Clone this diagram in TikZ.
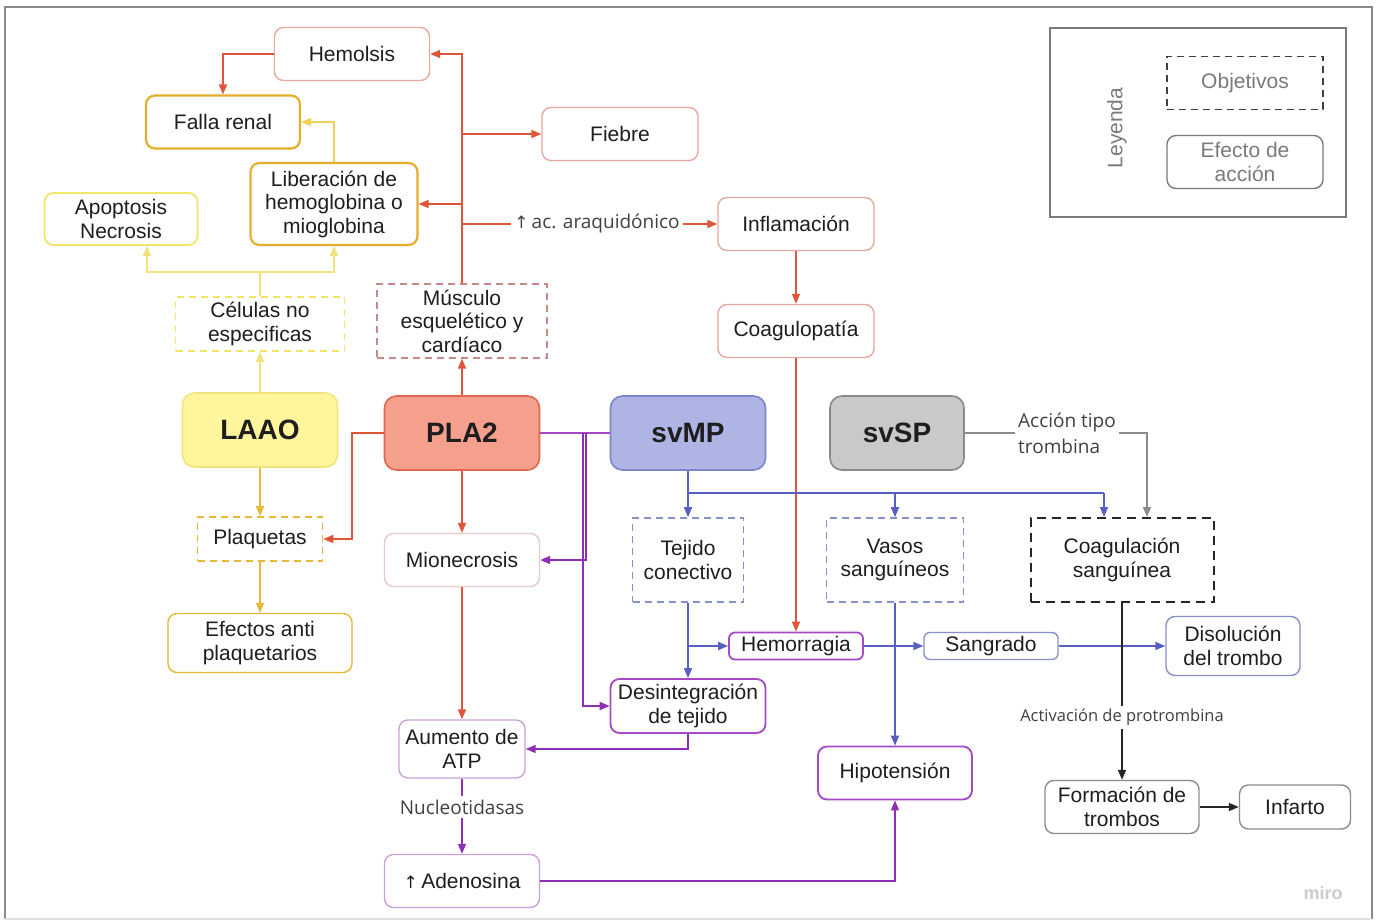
\documentclass[tikz,border=0pt]{standalone}
\usepackage{fontspec}
\setmainfont{Liberation Sans}
\newfontfamily\lblfont{Open Sans}
\newfontfamily\symfont{DejaVu Sans}
\usetikzlibrary{arrows.meta}

% palette
\definecolor{txt}{HTML}{1E1E1E}
\definecolor{redln}{HTML}{E0553A}
\definecolor{redbd}{HTML}{E8A8A0}
\definecolor{pinkbd}{HTML}{E8CACA}
\definecolor{muscbd}{HTML}{C48A8A}
\definecolor{goldbd}{HTML}{E6AE2A}
\definecolor{goldln}{HTML}{E8B838}
\definecolor{yelbd}{HTML}{F3E46A}
\definecolor{yelln}{HTML}{F2E27A}
\definecolor{laaofill}{HTML}{FFF59C}
\definecolor{laaobd}{HTML}{F2E47C}
\definecolor{plafill}{HTML}{F4A08C}
\definecolor{plabd}{HTML}{E0664F}
\definecolor{mpfill}{HTML}{AEB4E4}
\definecolor{mpbd}{HTML}{7C86CC}
\definecolor{spfill}{HTML}{C9C9C9}
\definecolor{spbd}{HTML}{8A8A8A}
\definecolor{blueln}{HTML}{5560C0}
\definecolor{bluebd}{HTML}{8890C8}
\definecolor{purln}{HTML}{8E2FB8}
\definecolor{purbd}{HTML}{A448C4}
\definecolor{purlt}{HTML}{C9A2DA}
\definecolor{grayln}{HTML}{8C8C8C}
\definecolor{legend}{HTML}{7A7A7A}
\definecolor{frame}{HTML}{8A8A8A}

\tikzset{
  wh/.style 2 args={minimum width=#1pt, minimum height=#2pt},
  box/.style={rectangle, rounded corners=9pt, draw, line width=1.4pt, align=center,
    inner sep=0pt, text=txt, font=\fontsize{21}{23.5}\selectfont},
  target/.style={rectangle, draw, dash pattern=on 7pt off 5pt, line width=1.6pt,
    align=center, inner sep=0pt, text=txt, font=\fontsize{21}{23.5}\selectfont},
  toxin/.style={rectangle, rounded corners=12pt, draw, line width=1.6pt,
    minimum width=155pt, minimum height=74pt, text=txt,
    font=\fontsize{28}{30}\selectfont\bfseries},
  lbl/.style={inner sep=3pt, text=txt!85, align=center,
    font=\lblfont\fontsize{19}{26}\selectfont},
  tip/.style={-{Triangle[length=10pt,width=8pt]}},
  rl/.style={draw=redln, line width=1.6pt},
  yl/.style={draw=yelln, line width=1.6pt},
  gl/.style={draw=goldln, line width=1.6pt},
  bl/.style={draw=blueln, line width=1.6pt},
  pl/.style={draw=purln, line width=1.6pt},
  kl/.style={draw=black!85, line width=1.6pt},
  gy/.style={draw=grayln, line width=1.6pt},
}

\begin{document}
\begin{tikzpicture}[x=1pt,y=-1pt]
\useasboundingbox (0,0) rectangle (1376,923);
\fill[white] (0,0) rectangle (1376,923);
\draw[frame, line width=2pt] (5,919) -- (5,7) -- (1372,7) -- (1372,919);
\draw[black!12, line width=2pt] (5,919) -- (1372,919);

% ---------- toxins ----------
\node[toxin, fill=laaofill, draw=laaobd] (laao) at (260,430) {LAAO};
\node[toxin, fill=plafill, draw=plabd] (pla2) at (462,433) {PLA2};
\node[toxin, fill=mpfill, draw=mpbd] (svmp) at (688,433) {svMP};
\node[toxin, fill=spfill, draw=spbd, minimum width=134pt] (svsp) at (897,433) {svSP};

% ---------- targets ----------
\node[target, draw=yelbd, wh={169}{54}] (cel) at (260,324) {Células no\\especificas};
\node[target, draw=muscbd, wh={170}{74}, line width=1.3pt] (musc) at (462,321) {Músculo\\esquelético y\\cardíaco};
\node[target, draw=goldln, wh={125}{44}] (plaq) at (260,539) {Plaquetas};
\node[target, draw=bluebd, wh={111}{84}] (tej) at (688,560) {Tejido\\conectivo};
\node[target, draw=bluebd, wh={137}{84}] (vasos) at (895,560) {Vasos\\sanguíneos};
\node[target, draw=black!85, wh={183}{84}, line width=2pt, dash pattern=on 9pt off 6pt] (coag) at (1122,560) {Coagulación\\sanguínea};

% ---------- effects ----------
\node[box, draw=redbd, wh={155}{53}] (hemo) at (352,54) {Hemolsis};
\node[box, draw=goldbd, wh={154}{53}, line width=2.2pt] (falla) at (223,122) {Falla renal};
\node[box, draw=goldbd, wh={167}{82}, line width=2.2pt] (lib) at (334,204) {Liberación de\\hemoglobina o\\mioglobina};
\node[box, draw=yelbd, wh={153}{52}, line width=1.8pt] (apop) at (121,219) {Apoptosis\\Necrosis};
\node[box, draw=redbd, wh={156}{53}] (fiebre) at (620,134) {Fiebre};
\node[box, draw=redbd, wh={156}{53}] (infl) at (796,224) {Inflamación};
\node[box, draw=redbd, wh={156}{53}] (coagp) at (796,331) {Coagulopatía};
\node[box, draw=goldln, wh={184}{59}] (efec) at (260,643) {Efectos anti\\plaquetarios};
\node[box, draw=pinkbd, wh={155}{53}] (mione) at (462,560) {Mionecrosis};
\node[box, draw=purbd, wh={134}{27}, rounded corners=6pt, line width=1.8pt] (hemor) at (796,646) {Hemorragia};
\node[box, draw=bluebd, wh={134}{27}, rounded corners=6pt] (sang) at (991,646) {Sangrado};
\node[box, draw=bluebd, wh={134}{59}] (disol) at (1233,646) {Disolución\\del trombo};
\node[box, draw=purbd, wh={155}{54}, line width=1.8pt] (desint) at (688,706) {Desintegración\\de tejido};
\node[box, draw=purlt, wh={126}{58}] (atp) at (462,749) {Aumento de\\ATP};
\node[box, draw=purlt, wh={155}{53}] (aden) at (462,881) {{\symfont\fontsize{17}{20}\selectfont↑}\,Adenosina};
\node[box, draw=purbd, wh={154}{53}, line width=1.8pt] (hipo) at (895,773) {Hipotensión};
\node[box, draw=grayln, wh={154}{53}] (form) at (1122,807) {Formación de\\trombos};
\node[box, draw=grayln, wh={111}{44}] (inf) at (1295,807) {Infarto};

% ---------- connector labels ----------
\node[lbl, fill=white] (araq) at (597,224) {{\symfont\fontsize{17}{18}\selectfont↑}\,ac. araquidónico};
\node[lbl, align=left] (accion) at (1067,433) {Acción tipo\\trombina};
\node[lbl, fill=white] (nucl) at (462,807) {Nucleotidasas};
\node[lbl, fill=white, font=\lblfont\fontsize{16.5}{20}\selectfont] (activ) at (1122,717) {Activación de protrombina};

% ---------- PLA2 (red) ----------
\coordinate (tF) at (462,134);
\coordinate (tL) at (462,204);
\coordinate (tA) at (462,224);
\draw[rl, tip] (pla2.north) -- (musc.south);
\draw[rl, tip] (musc.north) |- (hemo.east);
\draw[rl, tip] (tF) -- (fiebre.west);
\draw[rl, tip] (tL) -- (lib.east);
\draw[rl] (tA) -- (araq.west);
\draw[rl, tip] (araq.east) -- (infl.west);
\draw[rl, tip] (hemo.west) -| (falla.north);
\draw[rl, tip] (infl.south) -- (coagp.north);
\draw[rl, tip] (coagp.south) -- (hemor.north);
\draw[rl, tip] (pla2.west) -- ++(-32,0) |- (plaq.east);
\draw[rl, tip] (pla2.south) -- (mione.north);
\draw[rl, tip] (mione.south) -- (atp.north);

% ---------- LAAO (yellow) ----------
\coordinate (cj) at (260,272);
\draw[yl, tip] (laao.north) -- (cel.south);
\draw[yl] (cel.north) -- (cj);
\draw[yl, tip] (cj) -| ([xshift=26pt]apop.south);
\draw[yl, tip] (cj) -| (lib.south);
\draw[gl, draw=yelbd!60!goldln, tip] (lib.north) |- (falla.east);
\draw[gl, tip] (laao.south) -- (plaq.north);
\draw[gl, tip] (plaq.south) -- (efec.north);

% ---------- shared (purple) ----------
\coordinate (pj1) at (586,433);
\coordinate (pj2) at (583,433);
\draw[pl, draw=purbd] (pla2.east) -- (svmp.west);
\draw[pl, tip] (pj1) |- (mione.east);
\draw[pl, tip] (pj2) |- (desint.west);
\draw[pl, tip] (desint.south) |- (atp.east);
\draw[pl] (atp.south) -- (nucl.north);
\draw[pl, tip] (nucl.south) -- (aden.north);
\draw[pl, tip] (aden.east) -| (hipo.south);

% ---------- svMP (blue) ----------
\coordinate (bj) at (688,493);
\coordinate (bv) at (895,493);
\coordinate (bc) at (1104,493);
\draw[bl] (svmp.south) -- (bj) -- (bc);
\draw[bl, tip] (bj) -- (tej.north);
\draw[bl, tip] (bv) -- (vasos.north);
\draw[bl, tip] (bc) -- ([xshift=-18pt]coag.north);
\draw[bl, tip] (tej.south) -- (desint.north);
\draw[bl, tip] (688,646) coordinate (th) -- (hemor.west);
\draw[bl, tip] (hemor.east) -- (sang.west);
\draw[bl, tip] (sang.east) -- (disol.west);
\draw[bl, tip] (vasos.south) -- (hipo.north);

% ---------- svSP (gray / black) ----------
\draw[gy] (svsp.east) -- (accion.west);
\draw[gy, tip] (accion.east) -| ([xshift=25pt]coag.north);
\draw[kl] (coag.south) -- (activ.north);
\draw[kl, tip] (activ.south) -- (form.north);
\draw[kl, tip] (form.east) -- (inf.west);

% ---------- legend ----------
\node[draw=legend, line width=1.5pt, minimum width=296pt, minimum height=189pt] (leg) at (1198,122.5) {};
\node[rotate=90, text=legend, font=\fontsize{21}{23.5}\selectfont] (legt) at (1117,128) {Leyenda};
\node[target, draw=black!75, text=legend, wh={156}{53}] (lobj) at (1245,83) {Objetivos};
\node[box, draw=legend, text=legend, wh={156}{53}] (lefa) at (1245,162) {Efecto de\\acción};

% watermark
\node[text=black!20, font=\fontsize{18}{20}\selectfont\bfseries] (miro) at (1323,893) {miro};
\end{tikzpicture}
\end{document}
